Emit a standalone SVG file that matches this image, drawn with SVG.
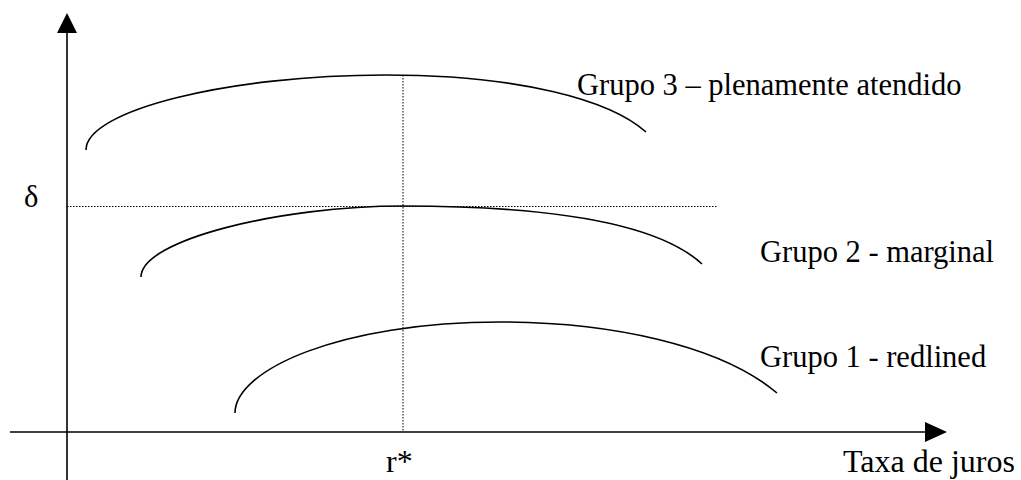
<svg xmlns="http://www.w3.org/2000/svg" width="1021" height="480" viewBox="0 0 1021 480">
<style>
.axis{stroke:#000;stroke-width:1.6;fill:none}
.curve{stroke:#000;stroke-width:1.6;fill:none}
.dot{stroke:#000;stroke-width:1;stroke-dasharray:1.5,1.5;fill:none}
.lbl{font-family:"Liberation Serif","Times New Roman",serif;font-size:30.5px;fill:#000}
.big{font-size:32px}
</style>
<rect width="1021" height="480" fill="#fff"/>
<g id="connectors">
<line class="axis" x1="67" y1="30" x2="67" y2="480"/>
<polygon points="67,13 57,33 77,33" fill="#000"/>
<line class="axis" x1="10" y1="432" x2="928" y2="432"/>
<polygon points="947,432 925,422 925,442" fill="#000"/>
<line class="dot" x1="403" y1="75" x2="403" y2="432"/>
<line class="dot" x1="67" y1="206.5" x2="718" y2="206.5"/>
</g>
<g id="grupo3">
<path class="curve" d="M86,150 C86,110 230,75 385,75 C520,75 610,100 646,132"/>
<text class="lbl" x="577" y="95">Grupo 3 – plenamente atendido</text>
</g>
<g id="grupo2">
<path class="curve" d="M141,277 C141,240 280,206 403,206 C560,206 660,225 702,264"/>
<text class="lbl" x="760" y="262">Grupo 2 - marginal</text>
</g>
<g id="grupo1">
<path class="curve" d="M235,413 C235,370 340,322 500,322 C610,322 720,345 777,393"/>
<text class="lbl" x="760" y="367">Grupo 1 - redlined</text>
</g>
<g id="labels">
<text class="lbl" x="24" y="207">δ</text>
<text class="lbl big" x="386" y="472">r*</text>
<text class="lbl big" x="843" y="472">Taxa de juros</text>
</g>
</svg>
